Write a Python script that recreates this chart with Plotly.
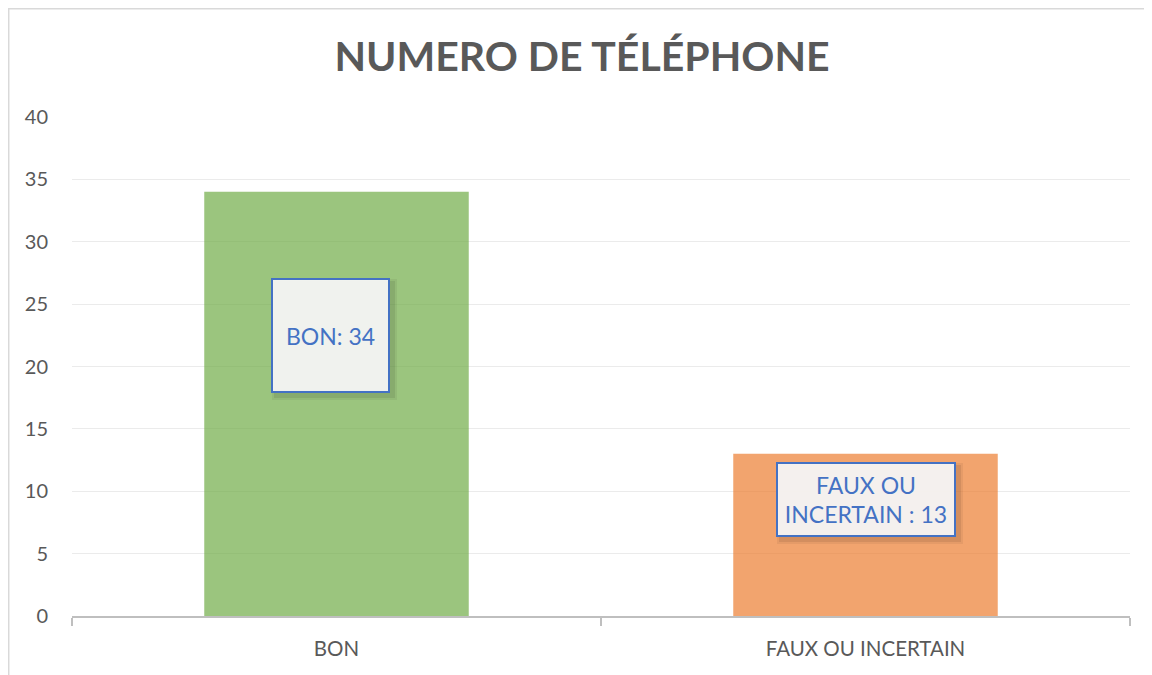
import plotly.graph_objects as go

categories = ["BON", "FAUX OU INCERTAIN"]
values = [34, 13]
bar_colors = ["#70AD47", "#ED7D31"]
label_texts = ["BON: 34", "FAUX OU<br>INCERTAIN : 13"]
label_y = [22.5, 9.35]

GRAY = "#595959"
BLUE = "#4472C4"
FONT = "Lato"

fig = go.Figure()
fig.add_trace(go.Bar(
    x=categories,
    y=values,
    marker=dict(color=bar_colors, line=dict(width=0)),
    opacity=0.7,
    hoverinfo="x+y",
))

# label boxes (soft shadow drawn first)
sizes = [(115, 111), (176, 71)]
for cat, txt, y, (w, h) in zip(categories, label_texts, label_y, sizes):
    xs = -6 if cat == "BON" else 0
    for extra, alpha, off in [(8, 0.05, 4), (4, 0.08, 4)]:
        fig.add_annotation(
            x=cat, y=y, text="", showarrow=False,
            width=w + extra, height=h + extra, bgcolor=f"rgba(0,0,0,{alpha})",
            xshift=xs + off, yshift=-off, borderwidth=0,
        )
    fig.add_annotation(
        x=cat, y=y, text=txt, showarrow=False,
        width=w, height=h, bgcolor="rgba(246,246,246,0.95)",
        bordercolor=BLUE, borderwidth=2, borderpad=0,
        font=dict(family=FONT, size=23, color=BLUE),
        xshift=xs,
    )

# outer chart border
fig.add_shape(
    type="rect", xref="paper", yref="paper",
    x0=-0.0598, x1=1.05, y0=-0.2, y1=1.2169,
    line=dict(color="#D9D9D9", width=1.5), fillcolor="rgba(0,0,0,0)",
    layer="below",
)

fig.update_layout(
    width=1152, height=675,
    margin=dict(l=64, r=30, t=109, b=67),
    paper_bgcolor="white", plot_bgcolor="white",
    bargap=0.5,
    showlegend=False,
    font=dict(family=FONT, color=GRAY),
    title=dict(
        text="<b>NUMERO DE TÉLÉPHONE</b>",
        font=dict(family=FONT, size=41, color=GRAY),
        x=574 / 1152, xanchor="center", xref="container",
        y=1 - 49 / 675, yanchor="middle", yref="container",
    ),
    xaxis=dict(
        showline=True, linecolor="#BFBFBF", linewidth=2,
        ticks="outside", tickson="boundaries", ticklen=8,
        tickcolor="#BFBFBF", tickwidth=1.5,
        tickfont=dict(family=FONT, size=20.5, color=GRAY),
        ticklabelstandoff=13,
        showgrid=False,
    ),
    yaxis=dict(
        range=[0, 40], dtick=5, showline=False,
        gridcolor="#EBEBEB", gridwidth=1, zeroline=False,
        tickfont=dict(family=FONT, size=20, color=GRAY),
        ticklabelstandoff=23,
    ),
)

fig.write_html("out.html")
